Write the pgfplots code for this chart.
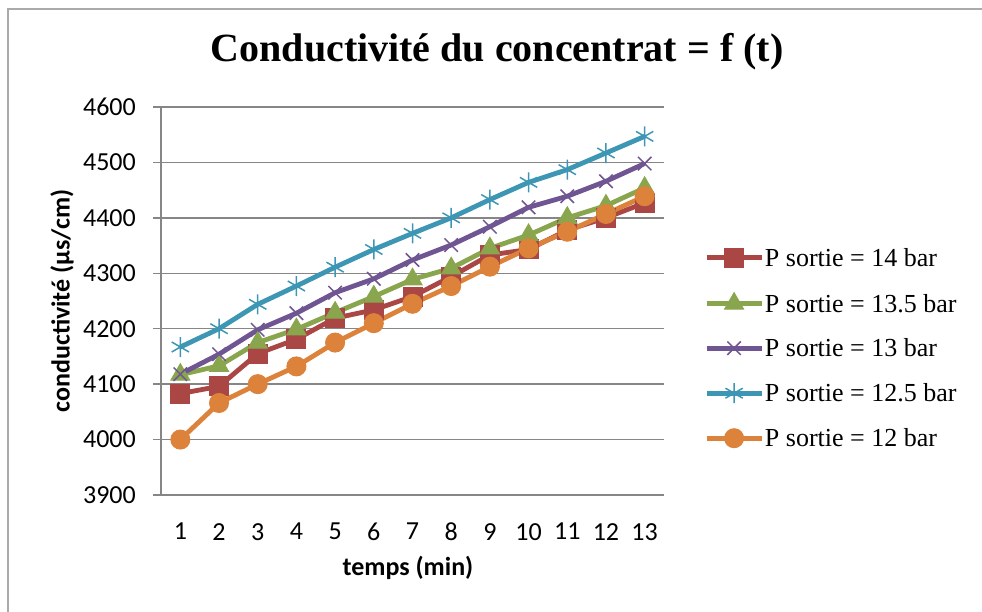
\documentclass[border=0pt]{standalone}
\usepackage{pgfplots}
\pgfplotsset{compat=1.18}
\usepackage{fontspec}
\setmainfont{Liberation Serif}
\newfontfamily\calibri{Carlito}
\definecolor{cRed}{RGB}{170,70,67}
\definecolor{cGreen}{RGB}{137,166,78}
\definecolor{cPurple}{RGB}{111,85,145}
\definecolor{cTeal}{RGB}{61,150,180}
\definecolor{cOrange}{RGB}{220,130,58}
\definecolor{gridgrey}{RGB}{134,134,134}
\definecolor{framegrey}{RGB}{170,170,170}
\begin{document}
\begin{tikzpicture}[x=1pt,y=1pt]
\useasboundingbox (0,0) rectangle (982,612);
\draw[color=framegrey, line width=1.5pt] (8,0) -- (8,603) -- (982,603);
\begin{axis}[
  at={(161pt,117pt)}, anchor=south west,
  scale only axis, width=503pt, height=388pt,
  xmin=0.5, xmax=13.5, ymin=3900, ymax=4600,
  xtick={1,2,...,13}, ytick={3900,4000,...,4600},
  scaled y ticks=false,
  axis lines*=left,
  axis line style={color=gridgrey, line width=1.5pt},
  ymajorgrids, grid style={color=gridgrey, line width=1.5pt},
  tick align=outside, major tick length=8pt,
  ytick pos=left, xtick pos=bottom,
  y tick style={color=gridgrey, line width=1.5pt},
  x tick style={draw=none},
  /pgf/number format/assume math mode=true,
  /pgf/number format/1000 sep={},
  ticklabel style={font=\calibri\fontsize{26}{31}\selectfont, inner sep=0pt},
  yticklabel style={xshift=-17pt},
  xticklabel style={yshift=-20pt},
  title={Conductivité du concentrat = f (t)},
  title style={font=\fontsize{40}{48}\selectfont\bfseries, at={(axis description cs:0.668,1)}, anchor=base, yshift=39pt, inner sep=0pt},
  xlabel={temps (min)},
  xlabel style={font=\calibri\bfseries\fontsize{26}{31}\selectfont, at={(axis description cs:0.491,0)}, anchor=base, yshift=-81pt, inner sep=0pt},
  ylabel={conductivité (µs/cm)},
  ylabel style={font=\calibri\bfseries\fontsize{26}{31}\selectfont, at={([xshift=-99pt]axis description cs:0,0.5)}, anchor=center, inner sep=0pt},
  clip=false,
  legend image code/.code={\draw[mark repeat=2,mark phase=2] plot coordinates {(0pt,0pt)(27.5pt,0pt)(55pt,0pt)};},
  legend style={at={(axis description cs:1.0795,0.379)}, anchor=west, draw=none, fill=none, inner sep=0pt,
    font=\fontsize{26}{31}\selectfont, row sep=25.5pt, column sep=1pt,
    cells={anchor=west}, nodes={inner sep=0pt, text height=18pt, text depth=1pt}},
  every axis plot/.append style={line width=4.8pt},
]
\addplot[color=cRed, mark=square*, mark size=9.5pt, mark options={solid, fill=cRed, line width=1pt}] coordinates {
(1,4083) (2,4096) (3,4155) (4,4181) (5,4219) (6,4234) (7,4258) (8,4294) (9,4333) (10,4343) (11,4378) (12,4400) (13,4427)};
\addlegendentry{P sortie = 14 bar}
\addplot[color=cGreen, mark=triangle*, mark size=11pt, mark options={solid, fill=cGreen, line width=1pt}] coordinates {
(1,4117) (2,4133) (3,4175) (4,4199) (5,4229) (6,4258) (7,4289) (8,4309) (9,4345) (10,4369) (11,4400) (12,4422) (13,4454)};
\addlegendentry{P sortie = 13.5 bar}
\addplot[color=cPurple, mark=x, mark size=9.5pt, mark options={solid, line width=1.5pt}] coordinates {
(1,4118) (2,4154) (3,4198) (4,4228) (5,4265) (6,4290) (7,4324) (8,4351) (9,4384) (10,4419) (11,4439) (12,4466) (13,4498)};
\addlegendentry{P sortie = 13 bar}
\addplot[color=cTeal, mark=asterisk, mark size=10pt, mark options={solid, line width=1.5pt}] coordinates {
(1,4167) (2,4200) (3,4244) (4,4277) (5,4311) (6,4343) (7,4372) (8,4400) (9,4433) (10,4464) (11,4487) (12,4517) (13,4547)};
\addlegendentry{P sortie = 12.5 bar}
\addplot[color=cOrange, mark=*, mark size=9.5pt, mark options={solid, fill=cOrange, line width=1pt}] coordinates {
(1,4000) (2,4066) (3,4100) (4,4132) (5,4175) (6,4210) (7,4245) (8,4277) (9,4312) (10,4345) (11,4375) (12,4407) (13,4439)};
\addlegendentry{P sortie = 12 bar}
\end{axis}
\end{tikzpicture}
\end{document}
